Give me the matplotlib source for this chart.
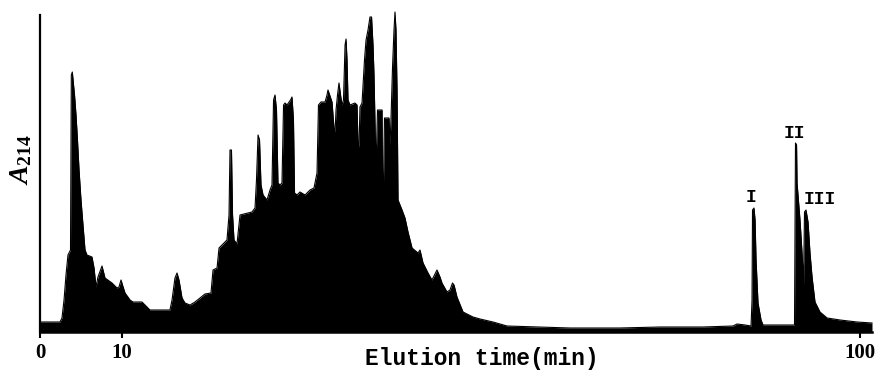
import matplotlib
matplotlib.use("Agg")
import matplotlib.pyplot as plt
import numpy as np

# Elution time (min)
time_min = [
    0.0, 2.44, 2.68, 2.93, 3.17, 3.41, 3.72, 3.82, 3.94, 4.09, 4.21, 4.39, 4.57, 4.76,
    5.00, 5.24, 5.49, 5.73, 6.34, 6.59, 6.83, 7.07, 7.38, 7.56, 7.74, 7.93, 8.78, 9.39,
    9.63, 9.88, 10.06, 10.37, 10.98, 11.34, 12.44, 12.93, 13.41, 15.85, 16.10, 16.46,
    16.71, 16.95, 17.32, 17.68, 18.29, 18.90, 19.51, 20.12, 20.85, 21.10, 21.59, 21.83,
    22.20, 22.56, 22.80, 23.05, 23.17, 23.35, 23.48, 23.66, 24.02, 24.39, 25.85, 26.22,
    26.40, 26.59, 26.77, 26.95, 27.20, 27.68, 28.05, 28.29, 28.48, 28.66, 28.84, 29.02,
    29.27, 29.51, 29.70, 29.88, 30.12, 30.55, 30.73, 30.91, 31.04, 31.34, 31.71, 32.32,
    32.93, 33.41, 33.78, 33.96, 34.27, 34.76, 35.00, 35.12, 35.37, 35.61, 35.85, 35.98,
    36.10, 36.28, 36.46, 36.65, 36.83, 37.01, 37.20, 37.32, 37.44, 37.56, 37.80, 38.41,
    38.66, 38.78, 38.90, 39.02, 39.27, 39.57, 39.76, 40.00, 40.24, 40.43, 40.61, 40.73,
    40.91, 41.04, 41.16, 41.71, 41.77, 41.89, 42.01, 42.56, 42.68, 42.80, 42.99, 43.17,
    43.29, 43.41, 43.54, 43.66, 44.15, 44.51, 44.88, 45.37, 46.10, 46.34, 46.71, 47.32,
    47.80, 48.17, 48.41, 48.78, 49.02, 49.63, 50.00, 50.30, 50.49, 50.85, 51.59, 52.80,
    53.66, 55.24, 56.95, 60.61, 64.63, 70.73, 75.61, 80.85, 84.51, 85.00, 85.98, 86.71,
    86.83, 86.89, 87.07, 87.20, 87.32, 87.56, 87.93, 88.17, 92.01, 92.13, 92.26, 92.32,
    92.68, 92.93, 93.11, 93.23, 93.41, 93.66, 93.90, 94.15, 94.51, 95.12, 95.98, 97.56,
    99.63, 101.46,
]

# Absorbance at 214 nm (arbitrary units)
a214 = [
    10, 10, 14, 32, 57, 77, 82, 257, 260, 247, 237, 217, 192, 162,
    132, 107, 82, 77, 75, 64, 45, 55, 62, 66, 60, 54, 49, 44,
    45, 52, 47, 39, 32, 30, 30, 26, 22, 22, 32, 54,
    59, 52, 34, 29, 27, 30, 34, 38, 39, 62, 64, 84,
    87, 90, 92, 117, 182, 182, 117, 92, 88, 117, 120, 124,
    152, 197, 192, 147, 137, 132, 142, 147, 232, 237, 222, 149,
    147, 149, 227, 229, 227, 232, 235, 212, 139, 137, 140, 137,
    142, 144, 159, 227, 230, 230, 237, 242, 236, 230, 204, 200,
    222, 237, 249, 237, 227, 232, 287, 293, 272, 232, 227, 229,
    227, 187, 185, 225, 229, 272, 292, 302, 315, 315, 287, 257,
    187, 184, 222, 222, 152, 150, 214, 214, 187, 212, 265, 302,
    320, 302, 242, 132, 122, 114, 100, 84, 79, 82, 69, 59,
    52, 58, 62, 55, 49, 40, 42, 49, 47, 35, 20, 15,
    13, 10, 6, 5, 4, 4, 5, 5, 6, 8, 7, 6,
    32, 122, 124, 112, 72, 29, 12, 7, 7, 189, 187, 149,
    112, 79, 47, 120, 122, 110, 79, 55, 30, 20, 14, 12,
    10, 9,
]

xticks = [0, 10, 100]
peak_labels = ["I", "II", "III"]
peak_label_time = [86.7, 92.0, 95.1]
peak_label_height = [135, 199, 132]

plt.rcParams["mathtext.fontset"] = "custom"
plt.rcParams["mathtext.rm"] = "Liberation Serif:bold"
plt.rcParams["mathtext.it"] = "Liberation Serif:bold:italic"

W, H = 879, 371
fig = plt.figure(figsize=(W / 100, H / 100), dpi=100)
x0, x1, ybot, ytop = 40, 872, 332, 15
ax = fig.add_axes([x0 / W, (H - ybot) / H, (x1 - x0) / W, (ybot - ytop) / H])

t = np.array(time_min)
a = np.array(a214)
ax.fill_between(t, 0, a, color="black", lw=0, clip_on=False)
ax.plot(t, a, color="black", lw=0.8, clip_on=False)

ax.set_xlim(0, 101.46)
ax.set_ylim(0, 317)

for s in ["top", "right"]:
    ax.spines[s].set_visible(False)
ax.spines["left"].set_linewidth(1.6)
ax.spines["bottom"].set_linewidth(1.8)

ax.set_yticks([])
ax.set_xticks(xticks)
ax.set_xticklabels([str(v) for v in xticks], fontfamily="Liberation Serif",
                   fontweight="bold", fontsize=15)
ax.tick_params(axis="x", direction="out", length=4, width=1.5, pad=4)

for lab, tx, hy in zip(peak_labels, peak_label_time, peak_label_height):
    ax.text(tx, hy, lab, ha="center", va="center", fontfamily="Liberation Mono",
            fontweight="bold", fontsize=13)

fig.text(482 / W, 1 - 359 / H, "Elution time(min)", ha="center", va="center",
         fontfamily="Liberation Mono", fontweight="bold", fontsize=16.5)
fig.text(20 / W, 1 - 160 / H, r"$\mathit{A}_{214}$", ha="center", va="center",
         rotation=90, fontsize=20)

fig.savefig("out.png", dpi=100, facecolor="white")
